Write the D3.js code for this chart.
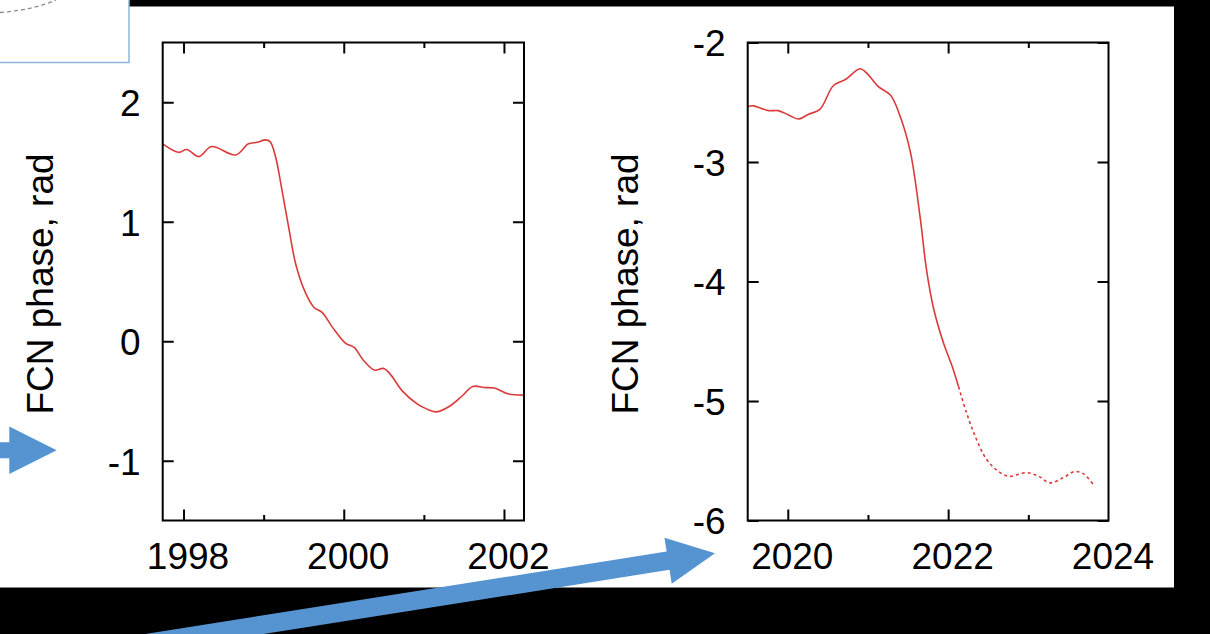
<!DOCTYPE html>
<html>
<head>
<meta charset="utf-8">
<script src="https://cdn.jsdelivr.net/npm/d3@7"></script>
<style>
  html, body { margin: 0; padding: 0; background: #000; }
  svg { display: block; }
</style>
</head>
<body>
<svg id="chart" width="1210" height="634"></svg>
<script>
// FCN phase, early epoch (1998–2002)
const yearsEarly = [1997.74, 1997.94, 1998.04, 1998.19, 1998.35, 1998.65, 1998.81, 1998.92, 1999.02, 1999.08,
  1999.15, 1999.23, 1999.32, 1999.40, 1999.52, 1999.63, 1999.73, 1999.86, 2000.02, 2000.13,
  2000.25, 2000.38, 2000.50, 2000.58, 2000.73, 2000.92, 2001.04, 2001.16, 2001.33, 2001.48,
  2001.61, 2001.75, 2001.88, 2002.06, 2002.25];
const phaseEarly = [1.652, 1.581, 1.604, 1.545, 1.629, 1.559, 1.652, 1.665, 1.685, 1.671,
  1.54, 1.26, 0.925, 0.647, 0.409, 0.283, 0.241, 0.116, -0.015, -0.052,
  -0.163, -0.241, -0.228, -0.275, -0.415, -0.526, -0.568, -0.591, -0.540, -0.456,
  -0.378, -0.387, -0.392, -0.442, -0.451];

// FCN phase, recent epoch (2019.5–2022.1, observed)
const yearsRecent = [2019.50, 2019.57, 2019.76, 2019.88, 2020.01, 2020.13, 2020.26, 2020.40, 2020.57, 2020.72,
  2020.90, 2020.99, 2021.13, 2021.28, 2021.40, 2021.53, 2021.65, 2021.73, 2021.82, 2021.94,
  2022.05, 2022.13];
const phaseRecent = [-2.536, -2.53, -2.57, -2.57, -2.606, -2.64, -2.60, -2.56, -2.36, -2.31,
  -2.22, -2.26, -2.37, -2.44, -2.615, -2.92, -3.46, -3.90, -4.23, -4.51,
  -4.71, -4.88];

// FCN phase, prediction (dashed)
const yearsPredicted = [2022.13, 2022.23, 2022.34, 2022.48, 2022.61, 2022.75, 2022.98, 2023.13, 2023.27, 2023.44,
  2023.58, 2023.69, 2023.81];
const phasePredicted = [-4.88, -5.10, -5.30, -5.49, -5.58, -5.63, -5.60, -5.63, -5.685, -5.64,
  -5.59, -5.61, -5.70];

const ticksEarlyX = [1998, 1999, 2000, 2001, 2002];
const labelsEarlyX = [1998, 2000, 2002];
const ticksEarlyY = [-1, 0, 1, 2];
const ticksRecentX = [2020, 2021, 2022, 2023];
const labelsRecentX = [2020, 2022, 2024];
const ticksRecentY = [-6, -5, -4, -3, -2];
const yTitle = "FCN phase, rad";

const svg = d3.select("#chart");
const FONT = "'Liberation Sans', Arial, Helvetica, sans-serif";
const RED = "#dc3a3a";
const BLUE = "#5694d1";
const plain = (d) => String(d); // ASCII hyphen for negatives

// white slide area
svg.append("rect").attr("x", 0).attr("y", 6.5).attr("width", 1174).attr("height", 581)
  .attr("fill", "#fff");

// small inset box at the upper-left corner with a dashed circle edge
svg.append("rect").attr("x", -3).attr("y", -3).attr("width", 132).attr("height", 65.5)
  .attr("fill", "#fff").attr("stroke", "#8db3dd").attr("stroke-width", 1.5);
const arc = d3.path();
arc.moveTo(0, 12.5);
arc.quadraticCurveTo(33, 10, 56, 0);
svg.append("path").attr("d", arc.toString()).attr("fill", "none")
  .attr("stroke", "#8a8a8a").attr("stroke-width", 1.3).attr("stroke-dasharray", "4,3");

function panel(opts) {
  const { x0, x1, y0, y1, xDomain, yDomain } = opts;
  const x = d3.scaleLinear().domain(xDomain).range([x0, x1]);
  const y = d3.scaleLinear().domain(yDomain).range([y1, y0]);
  const g = svg.append("g");

  // curves
  const line = d3.line().x((d) => x(d[0])).y((d) => y(d[1])).curve(d3.curveCatmullRom.alpha(0.5));
  opts.series.forEach((s) => {
    g.append("path")
      .datum(s.xs.map((v, i) => [v, s.ys[i]]))
      .attr("d", line)
      .attr("fill", "none")
      .attr("stroke", RED)
      .attr("stroke-width", 1.6)
      .attr("stroke-dasharray", s.dashed ? "3,3" : null);
  });

  const major = 11, minor = 5.5;
  const tickStroke = (sel) => sel.selectAll("line").attr("stroke", "#000").attr("stroke-width", 2);
  const isMajor = (v) => opts.labelsX.includes(v);

  // bottom and top ticks (inward)
  const bottom = g.append("g").attr("transform", `translate(0,${y1})`)
    .call(d3.axisBottom(x).tickValues(opts.ticksX).tickSizeOuter(0).tickSize(0).tickFormat(""));
  bottom.select(".domain").remove();
  bottom.selectAll(".tick line").attr("y2", (d) => -(isMajor(d) ? major : minor));
  tickStroke(bottom);
  const top = g.append("g").attr("transform", `translate(0,${y0})`)
    .call(d3.axisTop(x).tickValues(opts.ticksX).tickSizeOuter(0).tickSize(0).tickFormat(""));
  top.select(".domain").remove();
  top.selectAll(".tick line").attr("y2", (d) => (isMajor(d) ? major : minor));
  tickStroke(top);

  // left and right ticks (inward)
  const left = g.append("g").attr("transform", `translate(${x0},0)`)
    .call(d3.axisLeft(y).tickValues(opts.ticksY).tickSizeOuter(0).tickSize(-major).tickPadding(22)
      .tickFormat(plain));
  left.select(".domain").remove();
  tickStroke(left);
  left.selectAll("text").attr("font-family", FONT).attr("font-size", 37).attr("fill", "#000")
    .attr("dy", "0.36em");
  const right = g.append("g").attr("transform", `translate(${x1},0)`)
    .call(d3.axisRight(y).tickValues(opts.ticksY).tickSizeOuter(0).tickSize(-major).tickFormat(""));
  right.select(".domain").remove();
  tickStroke(right);

  // x labels
  const xl = g.append("g").attr("transform", `translate(4,${y1})`)
    .call(d3.axisBottom(x).tickValues(opts.labelsX).tickSize(0).tickPadding(22).tickFormat(plain));
  xl.select(".domain").remove();
  xl.selectAll("text").attr("font-family", FONT).attr("font-size", 37).attr("fill", "#000");

  // frame
  g.append("rect").attr("x", x0).attr("y", y0).attr("width", x1 - x0).attr("height", y1 - y0)
    .attr("fill", "none").attr("stroke", "#000").attr("stroke-width", 2);

  // y title
  g.append("text")
    .attr("transform", `translate(${x0 - 109.4},${284}) rotate(-90)`)
    .attr("text-anchor", "middle")
    .attr("font-family", FONT).attr("font-size", 37).attr("fill", "#000")
    .text(yTitle);
}

panel({
  x0: 162.7, x1: 524, y0: 42.5, y1: 520.5,
  xDomain: [1997.74, 2002.25], yDomain: [-1.5, 2.5],
  ticksX: ticksEarlyX, labelsX: labelsEarlyX, ticksY: ticksEarlyY,
  series: [{ xs: yearsEarly, ys: phaseEarly }]
});

panel({
  x0: 747.7, x1: 1108.5, y0: 42.5, y1: 520.5,
  xDomain: [2019.5, 2024], yDomain: [-6, -2],
  ticksX: ticksRecentX, labelsX: labelsRecentX, ticksY: ticksRecentY,
  series: [
    { xs: yearsRecent, ys: phaseRecent },
    { xs: yearsPredicted, ys: phasePredicted, dashed: true }
  ]
});

// block arrows pointing at the panels
function blockArrow(from, to, shaftW, headW, headL) {
  const dx = to[0] - from[0], dy = to[1] - from[1];
  const len = Math.hypot(dx, dy);
  const ux = dx / len, uy = dy / len, nx = -uy, ny = ux;
  const bx = to[0] - ux * headL, by = to[1] - uy * headL;
  const p = d3.path();
  p.moveTo(from[0] + nx * shaftW / 2, from[1] + ny * shaftW / 2);
  p.lineTo(bx + nx * shaftW / 2, by + ny * shaftW / 2);
  p.lineTo(bx + nx * headW / 2, by + ny * headW / 2);
  p.lineTo(to[0], to[1]);
  p.lineTo(bx - nx * headW / 2, by - ny * headW / 2);
  p.lineTo(bx - nx * shaftW / 2, by - ny * shaftW / 2);
  p.lineTo(from[0] - nx * shaftW / 2, from[1] - ny * shaftW / 2);
  p.closePath();
  svg.append("path").attr("d", p.toString()).attr("fill", BLUE);
}
blockArrow([-20, 450.3], [56.7, 450.3], 16, 47.5, 47.4);
blockArrow([100, 650.5], [715, 553.3], 18.5, 46.5, 47.5);
</script>
</body>
</html>
